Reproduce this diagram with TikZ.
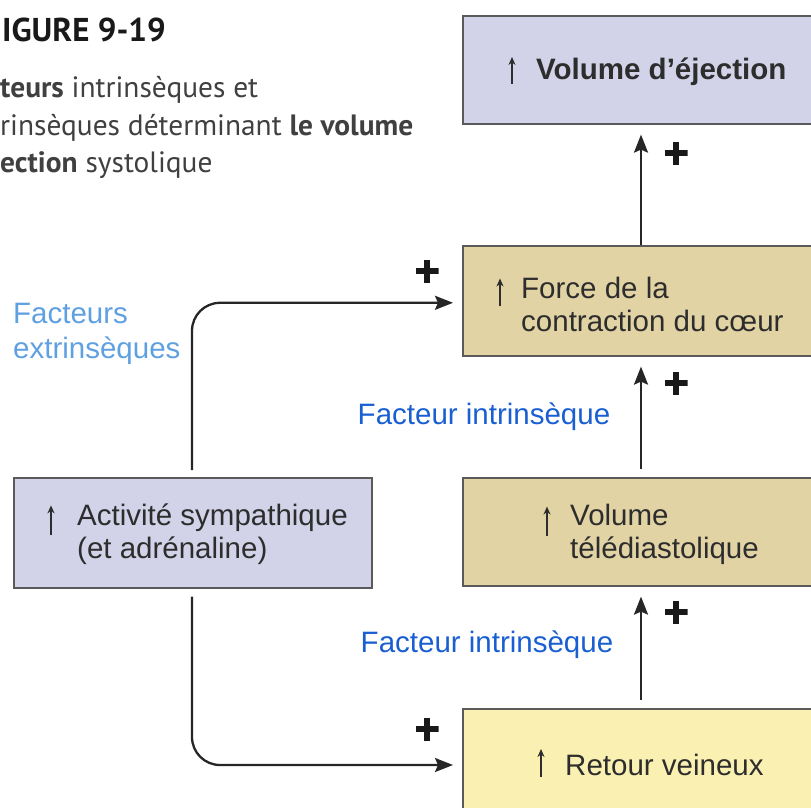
\documentclass[tikz,border=0pt]{standalone}
\usepackage{fontspec}
\setmainfont{Liberation Sans}
\newfontfamily\capfont{PT Sans}
\usetikzlibrary{arrows.meta,calc}
\definecolor{lav}{RGB}{210,210,232}
\definecolor{tan}{RGB}{226,211,165}
\definecolor{yel}{RGB}{250,240,178}
\definecolor{bleuclair}{RGB}{95,160,225}
\definecolor{bleu}{RGB}{25,95,210}
\definecolor{bord}{RGB}{90,90,90}
\definecolor{txt}{RGB}{45,45,45}
\tikzset{
  boite/.style={draw=bord, line width=1.6pt, rectangle, anchor=north west, inner sep=0pt},
  lbl/.style={font=\fontsize{29.5}{33}\selectfont, text=txt, align=left, anchor=west, inner sep=0pt},
  fl/.style={line width=2.3pt, draw=black!85, -{Stealth[length=18pt,width=14pt,inset=3pt]}},
  upar/.style={line width=1.8pt, draw=txt, -{Stealth[length=8pt,width=7pt]}},
  plus/.style={minimum size=23pt, inner sep=0pt, path picture={
      \draw[line width=6.5pt, black!90] (path picture bounding box.west) -- (path picture bounding box.east);
      \draw[line width=6.5pt, black!90] (path picture bounding box.north) -- (path picture bounding box.south);}},
  legende/.style={font=\capfont\fontsize{29.4}{30}\selectfont, text=black!75, anchor=base west, inner sep=0pt},
}
\begin{document}
\begin{tikzpicture}[x=1pt,y=-1pt]
\useasboundingbox (0,0) rectangle (811,808);
\clip (0,0) rectangle (811,808);
% boxes
\node[boite, fill=lav, minimum width=420pt, minimum height=108pt] (ve) at (462,15) {};
\node[boite, fill=tan, minimum width=420pt, minimum height=110pt] (fc) at (462,245) {};
\node[boite, fill=tan, minimum width=420pt, minimum height=108pt] (vt) at (462,477) {};
\node[boite, fill=yel, minimum width=420pt, minimum height=140pt] (rv) at (462,708) {};
\node[boite, fill=lav, minimum width=358pt, minimum height=110pt] (as) at (13,477) {};
% box texts
\node[lbl, font=\fontsize{29.5}{33}\selectfont\bfseries] (t1) at (536,72) {Volume d'éjection};
\node[lbl] (t2) at (521,304) {Force de la\\contraction du cœur};
\node[lbl] (t3) at (570,534) {Volume\\télédiastolique};
\node[lbl] (t4) at (565,765) {Retour veineux};
\node[lbl] (t5) at (77,534) {Activité sympathique\\(et adrénaline)};
% small up arrows (part of the texts)
\draw[upar] ($(t1.west)+(-24,12)$) -- ++(0,-27);
\draw[upar] ($(t2.north west)+(-21,30)$) -- ++(0,-28);
\draw[upar] ($(t3.north west)+(-23,32)$) -- ++(0,-29);
\draw[upar] ($(t4.west)+(-24,12)$) -- ++(0,-28);
\draw[upar] ($(t5.north west)+(-26,32)$) -- ++(0,-30);
% vertical arrows
\draw[fl] ($(fc.north west)+(179,0)$) -- ($(ve.south west)+(179,10)$);
\draw[fl] ($(vt.north west)+(179,-8)$) -- ($(fc.south west)+(179,10)$);
\draw[fl] ($(rv.north west)+(179,-8)$) -- ($(vt.south west)+(179,10)$);
% left connectors
\draw[fl, rounded corners=28pt] ($(as.north west)+(179,-7)$) |- ($(fc.west)+(-9,2)$);
\draw[fl, rounded corners=28pt] ($(as.south west)+(179,8)$) |- ($(rv.north west)+(-9,57)$);
% plus signs
\node[plus] (p1) at (676,153) {};
\node[plus] (p2) at (676,383) {};
\node[plus] (p3) at (676,612) {};
\node[plus] (p4) at (427,271) {};
\node[plus] (p5) at (427,729) {};
% labels
\node[lbl, text=bleuclair, font=\fontsize{29.5}{35}\selectfont] (ext) at (13,334) {Facteurs\\extrinsèques};
\node[lbl, text=bleu, anchor=center] (i1) at (484,417) {Facteur intrinsèque};
\node[lbl, text=bleu, anchor=center] (i2) at (487,645) {Facteur intrinsèque};
% caption
\node[legende, font=\capfont\fontsize{33}{30}\selectfont\bfseries, text=black!90] (fig) at (2,42) {IGURE 9-19};
\node[legende] (c1) at (0,97) {\textbf{teurs} intrinsèques et};
\node[legende] (c2) at (0,135) {rinsèques déterminant \textbf{le volume}};
\node[legende] (c3) at (0,172) {\textbf{ection} systolique};
\end{tikzpicture}
\end{document}
